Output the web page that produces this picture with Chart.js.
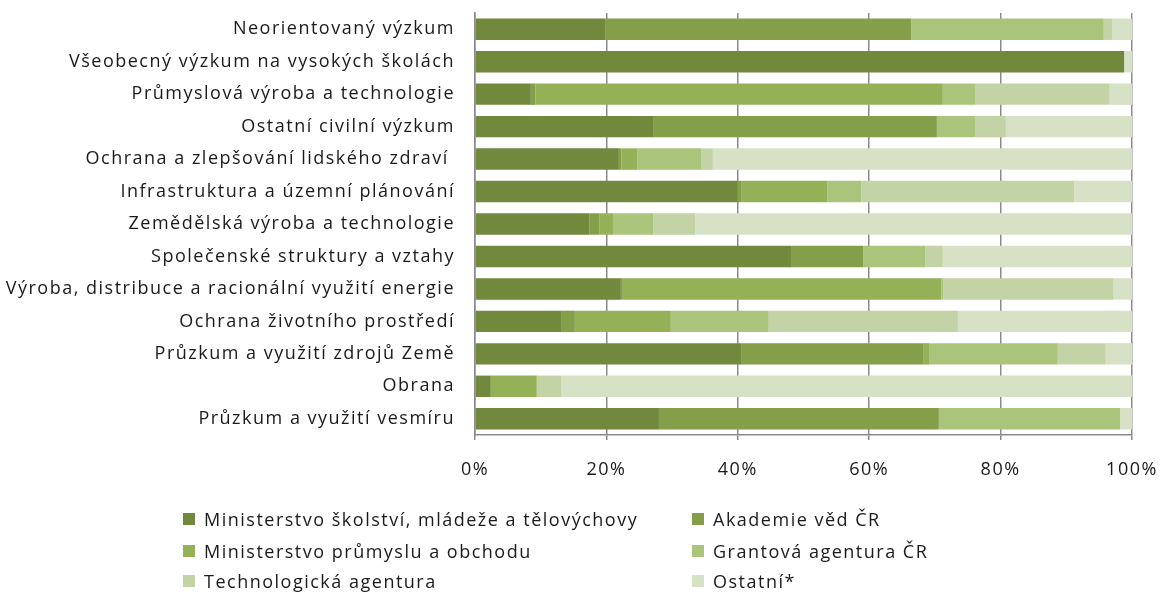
<!DOCTYPE html>
<html>
<head>
<meta charset="utf-8">
<script src="https://cdn.jsdelivr.net/npm/chart.js@4/dist/chart.umd.min.js"></script>
<style>
  html, body { margin: 0; padding: 0; background: #fff; }
  #wrap { position: relative; width: 1164px; height: 592px; overflow: hidden; }
  #c { position: absolute; left: 0; top: 0; }
  .lg { position: absolute; font-family: "Open Sans", sans-serif; font-size: 18px; letter-spacing: 1.5px; color: #1a1a1a; white-space: nowrap; line-height: 20px; height: 20px; }
  .lg span.box { position: absolute; width: 12px; height: 12px; left: 0; top: 4px; }
  .lg span.t { position: absolute; left: 21px; top: 0; }
</style>
</head>
<body>
<div id="wrap">
  <canvas id="c" width="1164" height="592"></canvas>
</div>
<script>
const categories = [
  "Neorientovaný výzkum",
  "Všeobecný výzkum na vysokých školách",
  "Průmyslová výroba a technologie",
  "Ostatní civilní výzkum",
  "Ochrana a zlepšování lidského zdraví ",
  "Infrastruktura a územní plánování",
  "Zemědělská výroba a technologie",
  "Společenské struktury a vztahy",
  "Výroba, distribuce a racionální využití energie",
  "Ochrana životního prostředí",
  "Průzkum a využití zdrojů Země",
  "Obrana",
  "Průzkum a využití vesmíru"
];
const seriesNames = [
  "Ministerstvo školství, mládeže a tělovýchovy",
  "Akademie věd ČR",
  "Ministerstvo průmyslu a obchodu",
  "Grantová agentura ČR",
  "Technologická agentura",
  "Ostatní*"
];
const msmt  = [19.8, 98.8,  8.5, 27.1, 21.9, 39.9, 17.4, 48.1, 22.2, 13.1, 40.5,  2.4, 28.0];
const avcr  = [46.6,  0.0,  0.7, 43.2,  0.4,  0.6,  1.5, 11.0,  0.3,  2.1, 27.7,  0.0, 42.6];
const mpo   = [ 0.0,  0.0, 62.0,  0.0,  2.4, 13.1,  2.1,  0.0, 48.5, 14.6,  0.9,  7.0,  0.0];
const gacr  = [29.3,  0.0,  4.9,  5.8,  9.7,  5.2,  6.1,  9.4,  0.3, 14.9, 19.6,  0.0, 27.6];
const tacr  = [ 1.3,  0.0, 20.5,  4.7,  1.8, 32.4,  6.4,  2.7, 25.9, 28.8,  7.3,  3.7,  0.0];
const other = [ 3.0,  1.2,  3.4, 19.2, 63.8,  8.8, 66.5, 28.8,  2.8, 26.5,  4.0, 86.9,  1.8];
const xTickLabels = ["0%", "20%", "40%", "60%", "80%", "100%"];

const colors = ["#71883D", "#849E4A", "#95B158", "#AAC47C", "#C3D3A5", "#D7E1C5"];
const seriesData = [msmt, avcr, mpo, gacr, tacr, other];

const FONT = "'Open Sans', sans-serif";

const spacingPlugin = {
  id: 'spacing',
  beforeLayout(chart) { chart.ctx.letterSpacing = '1.5px'; },
  beforeDraw(chart) { chart.ctx.letterSpacing = '1.5px'; }
};

const ctx = document.getElementById('c').getContext('2d');
new Chart(ctx, {
  type: 'bar',
  plugins: [spacingPlugin],
  data: {
    labels: categories,
    datasets: seriesData.map((d, i) => ({
      label: seriesNames[i],
      data: d,
      backgroundColor: colors[i],
      borderWidth: 0,
      categoryPercentage: 1.0,
      barPercentage: 0.66
    }))
  },
  options: {
    indexAxis: 'y',
    responsive: false,
    animation: false,
    devicePixelRatio: 1,
    layout: { padding: { top: 13, right: 32, left: 0, bottom: 0 } },
    plugins: { legend: { display: false }, tooltip: { enabled: false } },
    scales: {
      x: {
        stacked: true,
        min: 0, max: 100,
        afterFit: s => { s.height = 157; s.paddingLeft = 0; s.paddingRight = 0; },
        ticks: {
          stepSize: 20,
          padding: 19,
          color: '#1a1a1a',
          font: { family: FONT, size: 18 },
          callback: (v) => xTickLabels[Math.round(v / 20)]
        },
        grid: { color: '#8a8a8a', lineWidth: 1.5, drawTicks: true, tickLength: 5, tickColor: '#8a8a8a' },
        border: { display: true, color: '#8a8a8a', width: 1.5 }
      },
      y: {
        stacked: true,
        afterFit: s => { s.width = 475; s.paddingTop = 0; s.paddingBottom = 0; },
        ticks: {
          padding: 20,
          color: '#1a1a1a',
          font: { family: FONT, size: 18 }
        },
        grid: { display: false, drawTicks: false },
        border: { display: true, color: '#8a8a8a', width: 1.5 }
      }
    }
  }
});

// HTML legend built from the series names/colours
const wrap = document.getElementById('wrap');
const legendPos = [
  [183, 509], [692, 509],
  [183, 541], [692, 541],
  [183, 571], [692, 571]
];
seriesNames.forEach((name, i) => {
  const d = document.createElement('div');
  d.className = 'lg';
  d.style.left = legendPos[i][0] + 'px';
  d.style.top = legendPos[i][1] + 'px';
  d.innerHTML = '<span class="box" style="background:' + colors[i] + '"></span><span class="t"></span>';
  d.querySelector('.t').textContent = name;
  wrap.appendChild(d);
});
</script>
</body>
</html>
